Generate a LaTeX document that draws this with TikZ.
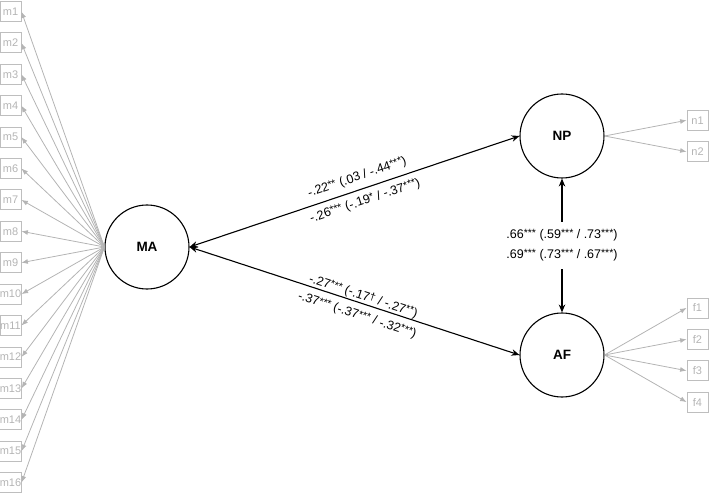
\documentclass[tikz,border=0pt]{standalone}
\usepackage{fontspec}
\setmainfont{Liberation Sans}
\usetikzlibrary{arrows.meta}
\definecolor{indgray}{RGB}{180,180,180}
\definecolor{boxgray}{RGB}{190,190,190}
% significance stars set as raised, slightly smaller marks
\newcommand{\sg}[1]{\raisebox{0.3ex}{\fontsize{10.5}{10.5}\selectfont #1}}
\begin{document}
\begin{tikzpicture}[x=1pt,y=-1pt,
  latent/.style={circle, draw, line width=1.1pt, minimum size=84pt, inner sep=0pt,
    font=\fontsize{13.5}{13.5}\selectfont\bfseries},
  indicator/.style={draw=boxgray, line width=0.8pt, minimum width=21pt, minimum height=20pt,
    inner sep=0pt, text=indgray, font=\fontsize{11}{11}\selectfont},
  loading/.style={draw=indgray, line width=0.8pt, -{Latex[length=6.5pt,width=5pt]}},
  covpath/.style={line width=1.1pt, {Stealth[length=8pt,width=6.5pt]}-{Stealth[length=8pt,width=6.5pt]}},
  coef/.style={font=\fontsize{12.5}{14}\selectfont, inner sep=0pt, sloped, pos=0.52}
]
\useasboundingbox (0,0) rectangle (709,494);

% latent factors
\node[latent] (MA) at (147,247) {MA};
\node[latent] (NP) at (562,136) {NP};
\node[latent] (AF) at (562,355) {AF};

% indicators of MA
\foreach \i in {1,...,16}
  \node[indicator] (m\i) at (10.5, {11.5+31.4*(\i-1)}) {m\i};
\foreach \i in {1,...,16}
  \draw[loading] (MA.west) -- (m\i.east);

% indicators of NP
\node[indicator] (n1) at (697.5,120.3) {n1};
\node[indicator] (n2) at (697.5,151.7) {n2};
\foreach \i in {1,2}
  \draw[loading] (NP.east) -- (n\i.west);

% indicators of AF
\node[indicator] (f1) at (697.5,307.9) {f1};
\node[indicator] (f2) at (697.5,339.3) {f2};
\node[indicator] (f3) at (697.5,370.7) {f3};
\node[indicator] (f4) at (697.5,402.1) {f4};
\foreach \i in {1,...,4}
  \draw[loading] (AF.east) -- (f\i.west);

% factor correlations
\draw[covpath] (MA.east) -- (NP.west)
  node[coef, above=6pt] {-.22\sg{**} (.03 / -.44\sg{***})}
  node[coef, below=6pt] {-.26\sg{***} (-.19\sg{*} / -.37\sg{***})};
\draw[covpath] (MA.east) -- (AF.west)
  node[coef, above=0.5pt] {-.27\sg{***} (-.17\sg{\dag} / -.27\sg{**})}
  node[coef, below=6.5pt] {-.37\sg{***} (-.37\sg{***} / -.32\sg{***})};
\draw[covpath] (NP.south) -- (AF.north)
  node[pos=0.5, fill=white, align=center, inner xsep=2pt, inner ysep=8pt,
    font=\fontsize{12.5}{20}\selectfont]
  {.66\sg{***} (.59\sg{***} / .73\sg{***})\\.69\sg{***} (.73\sg{***} / .67\sg{***})};
\end{tikzpicture}
\end{document}
